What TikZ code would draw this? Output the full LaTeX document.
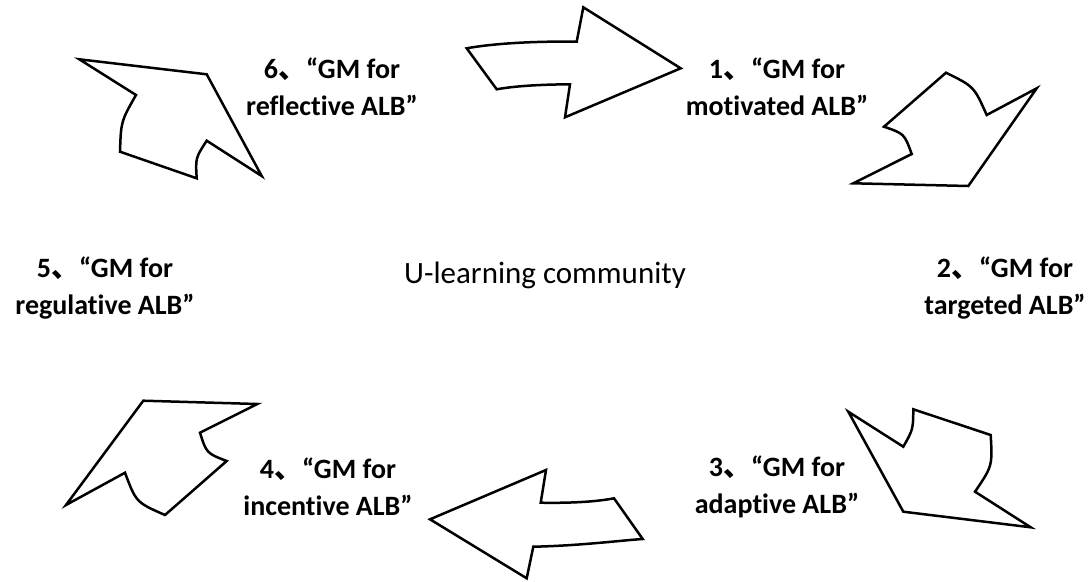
\documentclass[tikz,border=0pt]{standalone}
\usepackage{fontspec}
\setmainfont{Carlito}[Ligatures=CommonOff]
\newfontfamily\cjkfont{Noto Sans CJK SC}
\newcommand{\dunhao}{{\cjkfont 、}}
\usetikzlibrary{positioning}

\begin{document}
\begin{tikzpicture}[
    x=1pt, y=-1pt,
    every node/.style={inner sep=0pt},
    stage/.style={align=center, font=\fontsize{28}{37}\selectfont\bfseries},
    hub/.style={font=\fontsize{31}{37}\selectfont, text=black},
    blockarrow/.style={draw=black, line width=2.5pt, fill=white, line join=miter, miter limit=10}
  ]
    \useasboundingbox (0,0) rectangle (1091,581);

    \node[hub, anchor=base] (hub) at (545,283) {U-learning community};

    \node[stage] (s1) at (777,87) {1\dunhao``GM for\\motivated ALB''};
    \node[stage] (s2) at (1005,288) {2\dunhao``GM for\\targeted ALB''};
    \node[stage] (s3) at (777,487) {3\dunhao``GM for\\adaptive ALB''};
    \node[stage] (s4) at (328,487) {4\dunhao``GM for\\incentive ALB''};
    \node[stage] (s5) at (105,288) {5\dunhao``GM for\\regulative ALB''};
    \node[stage] (s6) at (332,87) {6\dunhao``GM for\\reflective ALB''};

    % block arrows running round the cycle
    \draw[blockarrow] (466.7,48.3) .. controls (490,44) and (530,41) .. (576.7,41.7)
      -- (583.3,7.3) -- (680.7,68.3) -- (565,117.3) -- (570,84.3)
      .. controls (540,84.5) and (515,86) .. (496.7,89.3) -- cycle;
    \draw[blockarrow] (946,72.7) .. controls (974,86.5) .. (986.7,115)
      -- (1036.7,88.3) -- (968.3,186) -- (853.3,183.3) -- (911.7,154)
      .. controls (904.3,133.7) .. (884,126.7) -- cycle;
    \draw[blockarrow] (848.3,411.7) -- (903.3,446.7)
      .. controls (913.1,429.3) .. (913.3,409.3) -- (990.7,435)
      .. controls (992.4,466) .. (975,491.7) -- (1030.7,527.3)
      -- (903.3,511.7) -- cycle;
    \draw[blockarrow] (430,519.3) -- (546,470) -- (540.7,502.7)
      .. controls (577,503.3) and (600,501) .. (614,498.3) -- (642.7,539)
      .. controls (620,540.5) and (580,545.7) .. (533.3,546.7)
      -- (526.7,578.3) -- cycle;
    \draw[blockarrow] (143.3,400.7) -- (257.3,404) -- (200,432.7)
      .. controls (206.5,453.2) .. (226.7,461) -- (165,515)
      .. controls (136.1,502.3) .. (125,472.7) -- (66,505) -- cycle;
    \draw[blockarrow] (79.3,59.3) -- (206.7,74.3) -- (261.7,176) -- (206.7,140.7)
      .. controls (195.5,157.9) .. (196.7,178.3) -- (120,151.7)
      .. controls (121,121.3) .. (136,95) -- cycle;
\end{tikzpicture}
\end{document}
